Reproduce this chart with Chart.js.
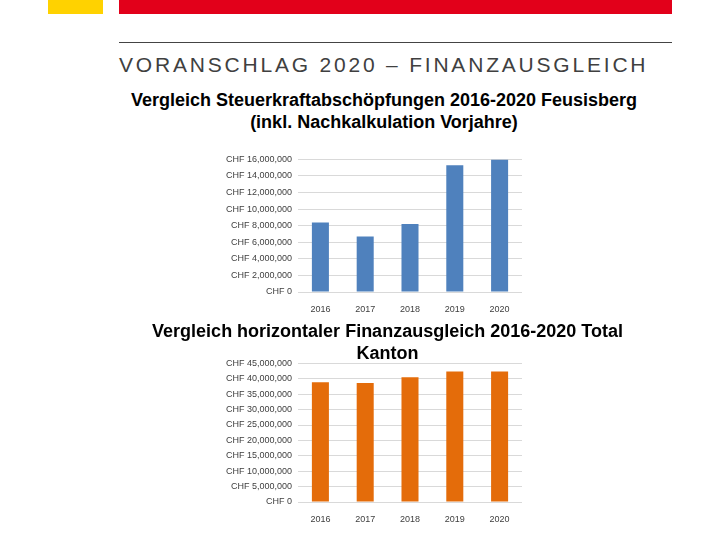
<!DOCTYPE html>
<html><head><meta charset="utf-8">
<script src="https://cdn.jsdelivr.net/npm/chart.js@4"></script>
<style>
body{margin:0;width:720px;height:540px;position:relative;background:#fff;font-family:"Liberation Sans",Arial,sans-serif;overflow:hidden}
.abs{position:absolute}
.t{position:absolute;left:0;width:768px;text-align:center;font-weight:bold;font-size:18px;color:#000;line-height:22px}
canvas{position:absolute}
</style></head><body>
<div class="abs" style="left:48px;top:0;width:55px;height:14px;background:#ffd200"></div>
<div class="abs" style="left:119px;top:0;width:553px;height:14px;background:#e2001a"></div>
<div class="abs" style="left:119px;top:42px;width:553px;height:1px;background:#444"></div>
<div class="abs" style="left:119px;top:53px;font-size:21px;letter-spacing:2.8px;color:#404040">VORANSCHLAG 2020 – FINANZAUSGLEICH</div>
<div class="t" style="top:89px">Vergleich Steuerkraftabschöpfungen 2016-2020 Feusisberg<br>(inkl. Nachkalkulation Vorjahre)</div>
<canvas id="c1" style="left:220px;top:148px" width="302" height="168"></canvas>
<canvas id="c2" style="left:220px;top:352px" width="302" height="174"></canvas>
<div class="t" style="top:320px;width:775px">Vergleich horizontaler Finanzausgleich 2016-2020 Total<br>Kanton</div>
<script>
const years = ["2016", "2017", "2018", "2019", "2020"];
const steuerkraft = [8400000, 6700000, 8200000, 15300000, 16000000];
const finanzausgleich = [38900000, 38600000, 40500000, 42400000, 42400000];

function fmt(v){ return "CHF " + v.toLocaleString("en-US"); }

function makeChart(id, data, color, max, step){
  new Chart(document.getElementById(id), {
    type: "bar",
    data: { labels: years, datasets: [{ data: data, backgroundColor: color, barPercentage: 0.38, categoryPercentage: 1 }] },
    options: {
      responsive: false, animation: false,
      layout: { padding: { top: 4 } },
      plugins: { legend: { display: false }, tooltip: { enabled: false } },
      scales: {
        x: { grid: { display: false }, border: { color: "#d9d9d9" },
             ticks: { color: "#404040", padding: 4, font: { size: 9, family: "Liberation Sans" } },
             afterFit: s => { s.height = 24; } },
        y: { min: 0, max: max, ticks: { stepSize: step, color: "#404040", padding: 6, callback: fmt, font: { size: 9, family: "Liberation Sans" } },
             grid: { color: "#d9d9d9", drawTicks: false }, border: { display: false },
             afterFit: s => { s.width = 78; } }
      }
    }
  });
}
makeChart("c1", steuerkraft, "#4f81bd", 16000000, 2000000);
makeChart("c2", finanzausgleich, "#e46c0a", 45000000, 5000000);
</script>
</body></html>
